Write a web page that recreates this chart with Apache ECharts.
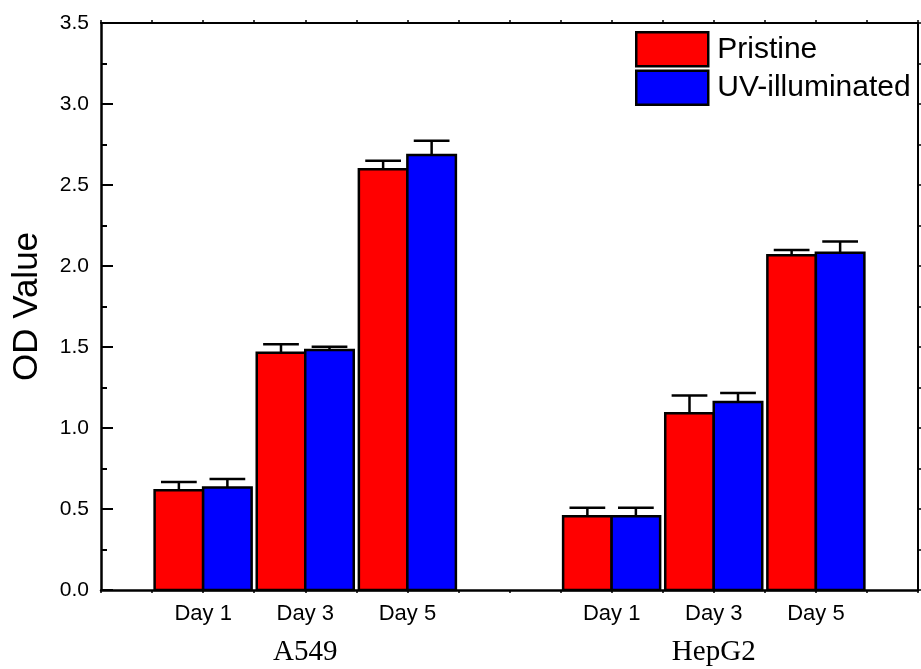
<!DOCTYPE html>
<html><head><meta charset="utf-8">
<script src="https://cdn.jsdelivr.net/npm/echarts@6/dist/echarts.min.js"></script>
<style>html,body{margin:0;padding:0;background:#fff}#c{width:921px;height:669px}</style>
</head><body><div id="c"></div>
<script>
// ---- data ----
const cellLines = ['A549', 'HepG2'];
const days = ['Day 1', 'Day 3', 'Day 5'];
const seriesNames = ['Pristine', 'UV-illuminated'];
const pristine = [[0.615, 1.465, 2.597], [0.455, 1.091, 2.066]];
const pristineErr = [[0.052, 0.052, 0.053], [0.052, 0.109, 0.033]];
const uv = [[0.633, 1.481, 2.685], [0.455, 1.160, 2.082]];
const uvErr = [[0.052, 0.020, 0.088], [0.052, 0.056, 0.070]];
const yTickLabels = ['0.0', '0.5', '1.0', '1.5', '2.0', '2.5', '3.0', '3.5'];

// ---- layout (not data) ----
const X_MAX = 16, GROUP_START = 2, GROUP_STEP = 8, DAY_STEP = 2;
const BAR_W = 0.95, CAP_W = 0.7;
const colors = ['#ff0000', '#0000ff'];
const FONT = "'Liberation Sans', Arial, sans-serif";

function centerOf(g, d) { return GROUP_START + GROUP_STEP * g + DAY_STEP * d; }

function buildData(vals, errs, side) {
  const out = [];
  vals.forEach((row, g) => row.forEach((v, d) => out.push([centerOf(g, d), v, errs[g][d], side])));
  return out;
}

function dayLabel(v) {
  for (let g = 0; g < cellLines.length; g++)
    for (let d = 0; d < days.length; d++)
      if (Math.abs(centerOf(g, d) - v) < 1e-6) return days[d];
  return '';
}
function cellLabel(v) {
  for (let g = 0; g < cellLines.length; g++)
    if (Math.abs(centerOf(g, 1) - v) < 1e-6) return cellLines[g];
  return '';
}

function makeRender(color) {
  return function (params, api) {
    const c = api.value(0), v = api.value(1), e = api.value(2), side = api.value(3);
    const x0 = side < 0 ? c - BAR_W : c;
    const x1 = side < 0 ? c : c + BAR_W;
    const mid = side < 0 ? c - 0.5 * BAR_W : c + 0.5 * BAR_W;
    const pTL = api.coord([x0, v]);
    const pBR = api.coord([x1, 0]);
    const top = api.coord([mid, v]);
    const eTop = api.coord([mid, v + e]);
    const cL = api.coord([mid - CAP_W / 2, v + e]);
    const cR = api.coord([mid + CAP_W / 2, v + e]);
    const ls = { stroke: '#000', lineWidth: 2.5 };
    return {
      type: 'group',
      children: [
        { type: 'line', shape: { x1: top[0], y1: top[1], x2: eTop[0], y2: eTop[1] }, style: ls },
        { type: 'line', shape: { x1: cL[0], y1: cL[1], x2: cR[0], y2: cR[1] }, style: ls },
        { type: 'rect', shape: { x: pTL[0], y: pTL[1], width: pBR[0] - pTL[0], height: pBR[1] - pTL[1] },
          style: { fill: color, stroke: '#000', lineWidth: 2.5 } }
      ]
    };
  };
}

const chart = echarts.init(document.getElementById('c'));
chart.setOption({
  animation: false,
  backgroundColor: '#fff',
  textStyle: { fontFamily: FONT, color: '#000' },
  grid: { left: 101, right: 3, top: 23, bottom: 79, containLabel: false },
  legend: {
    orient: 'vertical', left: 635, top: 31, padding: 0,
    itemWidth: 72, itemHeight: 34, itemGap: 2, icon: 'rect',
    itemStyle: { borderColor: '#000', borderWidth: 2.5 },
    textStyle: { fontSize: 30, color: '#000', fontFamily: FONT, padding: [0, 0, 0, 4] },
    data: seriesNames
  },
  xAxis: [
    { type: 'value', min: 0, max: X_MAX, interval: 1, position: 'bottom',
      axisLine: { onZero: false, lineStyle: { color: '#000', width: 2.5 } },
      axisTick: { show: true, inside: false, length: 3, lineStyle: { color: '#000', width: 1.5 } },
      axisLabel: { formatter: dayLabel, fontSize: 22, color: '#000', margin: 13, fontFamily: FONT },
      splitLine: { show: false } },
    { type: 'value', min: 0, max: X_MAX, interval: 1, position: 'top',
      axisLine: { onZero: false, lineStyle: { color: '#000', width: 2 } },
      axisTick: { show: true, inside: false, length: 3, lineStyle: { color: '#000', width: 1.5 } },
      axisLabel: { show: false }, splitLine: { show: false } },
    { type: 'value', min: 0, max: X_MAX, interval: 1, position: 'bottom',
      axisLine: { show: false }, axisTick: { show: false },
      axisLabel: { formatter: cellLabel, fontSize: 29, color: '#000', margin: 48,
        fontFamily: "'Liberation Serif', 'Times New Roman', serif" },
      splitLine: { show: false } }
  ],
  yAxis: [
    { type: 'value', min: 0, max: 3.5, interval: 0.5, position: 'left',
      name: 'OD Value', nameLocation: 'middle', nameGap: 56,
      nameTextStyle: { fontSize: 35, color: '#000', fontFamily: FONT },
      axisLine: { show: true, onZero: false, lineStyle: { color: '#000', width: 2.5 } },
      axisTick: { show: true, inside: true, length: 12, lineStyle: { color: '#000', width: 2 } },
      minorTick: { show: true, splitNumber: 2, length: 6, lineStyle: { color: '#000', width: 2 } },
      axisLabel: { fontSize: 21, color: '#000', margin: 12, fontFamily: FONT,
        formatter: (v) => yTickLabels[Math.round(v / 0.5)] },
      splitLine: { show: false }, minorSplitLine: { show: false } },
    { type: 'value', min: 0, max: 3.5, interval: 0.5, position: 'right',
      axisLine: { show: true, onZero: false, lineStyle: { color: '#000', width: 2 } },
      axisTick: { show: true, inside: false, length: 3, lineStyle: { color: '#000', width: 1.5 } },
      minorTick: { show: true, splitNumber: 2, length: 3, lineStyle: { color: '#000', width: 1.5 } },
      axisLabel: { show: false }, splitLine: { show: false } }
  ],
  series: [
    { name: seriesNames[0], type: 'custom', xAxisIndex: 0, yAxisIndex: 0, clip: false,
      itemStyle: { color: colors[0] }, renderItem: makeRender(colors[0]),
      data: buildData(pristine, pristineErr, -1) },
    { name: seriesNames[1], type: 'custom', xAxisIndex: 0, yAxisIndex: 0, clip: false,
      itemStyle: { color: colors[1] }, renderItem: makeRender(colors[1]),
      data: buildData(uv, uvErr, 1) }
  ]
});
</script></body></html>
